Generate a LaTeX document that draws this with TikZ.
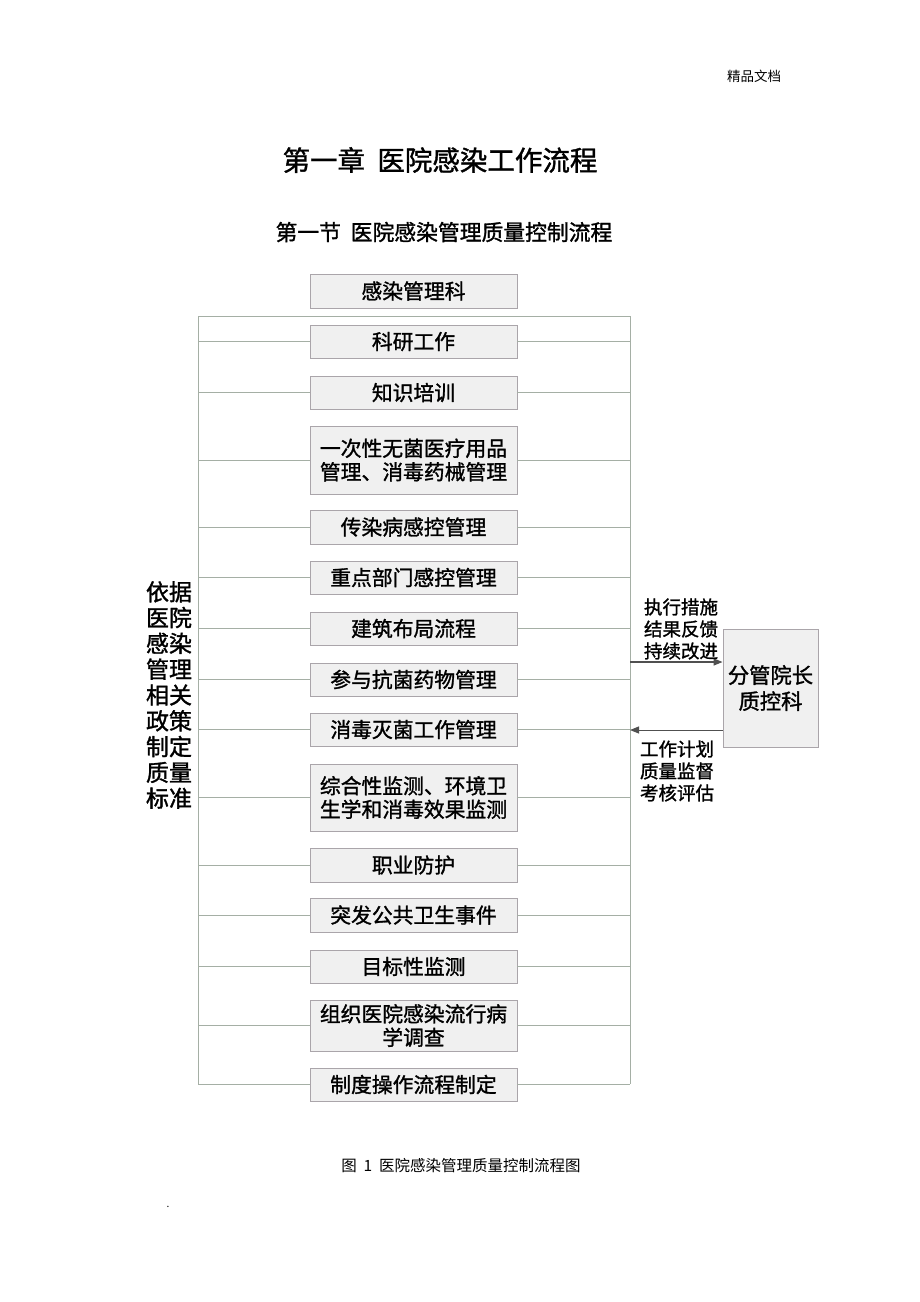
\documentclass[tikz,border=0pt]{standalone}
\usepackage{fontspec}
\setmainfont{Noto Sans CJK SC}
\newfontfamily\heavy[FakeBold=1.3]{Noto Sans CJK SC}
\usetikzlibrary{arrows.meta,shadows}
\begin{document}
\begin{tikzpicture}[x=1pt,y=-1pt,
  box/.style={draw={rgb,255:red,170;green,165;blue,170}, line width=0.9pt, fill={rgb,255:red,240;green,240;blue,240},
    minimum width=207pt, inner sep=1pt, align=center, font=\heavy\fontsize{20.8}{23.5}\selectfont,
    drop shadow={shadow xshift=1.2pt, shadow yshift=-1.2pt, fill=gray!60, opacity=0.7}},
  conn/.style={draw={rgb,255:red,165;green,175;blue,165}, line width=0.8pt},
  arr/.style={draw={rgb,255:red,80;green,80;blue,80}, line width=1.3pt, -{Triangle[length=9pt,width=7pt]}},
  lbl/.style={align=center, font=\heavy\fontsize{18.5}{22}\selectfont, inner sep=0pt}
]
\useasboundingbox (0,0) rectangle (920,1302);
\fill[white] (0,0) rectangle (920,1302);

\node[font=\fontsize{13.5}{15}\selectfont] (hdr) at (754,76) {精品文档};
\node[font=\heavy\fontsize{27.5}{32}\selectfont] (t1) at (440,160) {第一章\ \ 医院感染工作流程};
\node[font=\heavy\fontsize{21.8}{26}\selectfont] (t2) at (444,232) {第一节\ \ 医院感染管理质量控制流程};

\coordinate (TL) at (198,316);
\coordinate (TR) at (630,316);
\coordinate (BL) at (198,1084);
\coordinate (BR) at (630,1084);
\draw[conn] (BL) -- (TL) -- (TR) -- (BR);

\node[box, minimum height=34pt] (b0) at (413.5,291) {感染管理科};
\node[box, minimum height=33pt] (b1) at (413.5,341.5) {科研工作};
\node[box, minimum height=33pt] (b2) at (413.5,392.5) {知识培训};
\node[box, minimum height=68pt] (b3) at (413.5,460) {一次性无菌医疗用品\\管理、消毒药械管理};
\node[box, minimum height=34pt] (b4) at (413.5,527) {传染病感控管理};
\node[box, minimum height=33pt] (b5) at (413.5,577.5) {重点部门感控管理};
\node[box, minimum height=33pt] (b6) at (413.5,628.5) {建筑布局流程};
\node[box, minimum height=33pt] (b7) at (413.5,679.5) {参与抗菌药物管理};
\node[box, minimum height=33pt] (b8) at (413.5,729.5) {消毒灭菌工作管理};
\node[box, minimum height=67pt] (b9) at (413.5,797.5) {综合性监测、环境卫\\生学和消毒效果监测};
\node[box, minimum height=34pt] (b10) at (413.5,865) {职业防护};
\node[box, minimum height=34pt] (b11) at (413.5,915) {突发公共卫生事件};
\node[box, minimum height=33pt] (b12) at (413.5,966.5) {目标性监测};
\node[box, minimum height=51pt] (b13) at (413.5,1025.5) {组织医院感染流行病\\学调查};
\node[box, minimum height=33pt] (b14) at (413.5,1084.5) {制度操作流程制定};

\foreach \b in {b1,b2,b3,b4,b5,b6,b7,b8,b9,b10,b11,b12,b13,b14}{
  \draw[conn] (\b.west -| TL) -- (\b.west);
  \draw[conn] (\b.east) -- (\b.east -| TR);
}

\node[align=center, font=\heavy\fontsize{23}{25.8}\selectfont, inner sep=0pt] (left) at (169,695)
  {依据\\医院\\感染\\管理\\相关\\政策\\制定\\质量\\标准};

\node[box, minimum width=95pt, minimum height=118pt, font=\heavy\fontsize{21.3}{26}\selectfont] (R) at (770.5,688) {分管院长\\质控科};

\coordinate (a1) at (630,662);
\coordinate (a2) at (630,730);
\draw[arr] (a1) -- (a1 -| R.west);
\draw[arr, line width=1pt] (a2 -| R.west) -- (a2);

\node[lbl] (l1) at (681,629) {执行措施\\结果反馈\\持续改进};
\node[lbl] (l2) at (677,771) {工作计划\\质量监督\\考核评估};

\node[font=\fontsize{15.5}{17}\selectfont] (cap) at (461,1166) {图\ \ 1\ \ 医院感染管理质量控制流程图};
\node[font=\fontsize{10}{12}\selectfont] (dot) at (168,1207) {.};
\end{tikzpicture}
\end{document}
